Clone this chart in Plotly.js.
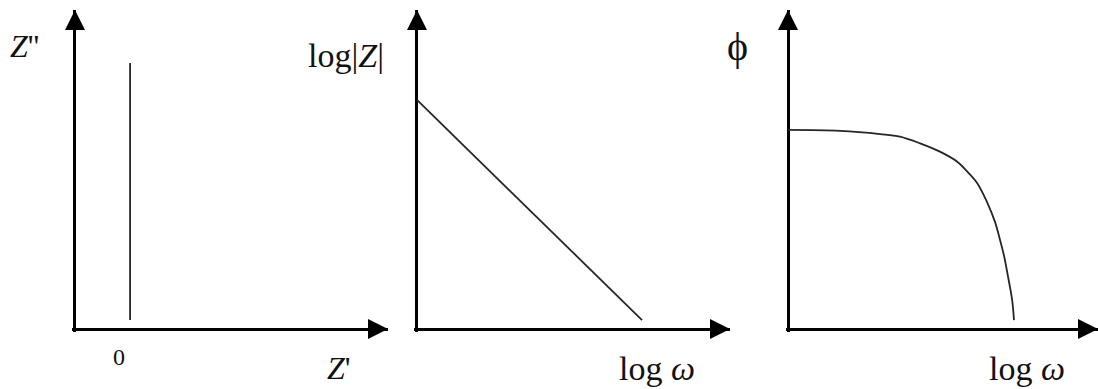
<!DOCTYPE html>
<html>
<head>
<meta charset="utf-8">
<script src="https://cdn.plot.ly/plotly-3.0.1.min.js"></script>
<style>html,body{margin:0;padding:0;background:#fff;}#chart{width:1098px;height:389px;}</style>
</head>
<body>
<div id="chart"></div>
<script>
// ---- data (schematic units, 0..10 on each axis) ----
const nyquistX = [1.76, 1.76];
const nyquistY = [0.28, 8.34];

const bodeMagX = [0, 7.19];
const bodeMagY = [7.18, 0.28];

const bodePhaseX = [0, 1.68, 2.97, 3.61, 4.26, 4.90, 5.45, 5.77, 6.10, 6.42, 6.68, 6.84, 6.97, 7.10, 7.23, 7.29];
const bodePhaseY = [6.24, 6.21, 6.11, 6.03, 5.82, 5.56, 5.25, 4.95, 4.58, 3.98, 3.35, 2.79, 2.29, 1.63, 0.91, 0.28];

const panelLabels = {
  y: ["<i>Z</i>''", "log|<i>Z</i>|", "\u03D5"],
  x: ["<i>Z</i>'", "log <i>\u03C9</i>", "log <i>\u03C9</i>"]
};
const originTick = "0";

// ---- layout helpers ----
const W = 1098, H = 389;
const LO = -0.08, HI = 10;
// pixel positions of each panel origin and arrow tips
const panels = [
  {ox: 75, tx: 388},
  {ox: 417, tx: 730},
  {ox: 788, tx: 1098}
];
const oy = 329, ty = 10;

function xdom(p) {
  const unit = (p.tx - p.ox) / HI;
  return [(p.ox + LO * unit) / W, p.tx / W];
}
const yUnit = (oy - ty) / HI;
const ydom = [(H - oy + LO * yUnit) / H, (H - ty) / H];

function paper(px, py) { return {x: px / W, y: (H - py) / H}; }

const lineStyle = {color: '#262626', width: 1.8};
const traces = [];
const suffix = ['', '2', '3'];

traces.push({x: nyquistX, y: nyquistY, mode: 'lines', line: lineStyle, xaxis: 'x', yaxis: 'y', hoverinfo: 'skip'});
traces.push({x: bodeMagX, y: bodeMagY, mode: 'lines', line: lineStyle, xaxis: 'x2', yaxis: 'y2', hoverinfo: 'skip'});
traces.push({x: bodePhaseX, y: bodePhaseY, mode: 'lines', line: Object.assign({shape: 'spline', smoothing: 1}, lineStyle), xaxis: 'x3', yaxis: 'y3', hoverinfo: 'skip'});

// arrow heads at axis ends
for (let i = 0; i < 3; i++) {
  traces.push({x: [0], y: [HI], mode: 'markers', marker: {symbol: 'arrow-up', size: 20, color: '#000'},
    xaxis: 'x' + suffix[i], yaxis: 'y' + suffix[i], cliponaxis: false, hoverinfo: 'skip'});
  traces.push({x: [HI], y: [0], mode: 'markers', marker: {symbol: 'arrow-right', size: 20, color: '#000'},
    xaxis: 'x' + suffix[i], yaxis: 'y' + suffix[i], cliponaxis: false, hoverinfo: 'skip'});
}

const layout = {
  width: W, height: H,
  margin: {l: 0, r: 0, t: 0, b: 0, pad: 0},
  paper_bgcolor: '#fff', plot_bgcolor: 'rgba(0,0,0,0)',
  showlegend: false,
  font: {family: 'Liberation Serif, Times New Roman, serif', color: '#111'},
  annotations: []
};
for (let i = 0; i < 3; i++) {
  const ax = {
    domain: xdom(panels[i]), range: [LO, HI], showgrid: false, showticklabels: false, ticks: '',
    zeroline: true, zerolinewidth: 3, zerolinecolor: '#000', showline: false, fixedrange: true
  };
  const ay = {
    domain: ydom, range: [LO, HI], showgrid: false, showticklabels: false, ticks: '',
    zeroline: true, zerolinewidth: 3, zerolinecolor: '#000', showline: false, fixedrange: true,
    anchor: 'x' + suffix[i]
  };
  ax.anchor = 'y' + suffix[i];
  layout['xaxis' + suffix[i]] = ax;
  layout['yaxis' + suffix[i]] = ay;
}

function ann(text, px, py, size) {
  const p = paper(px, py);
  layout.annotations.push({text: text, x: p.x, y: p.y, xref: 'paper', yref: 'paper',
    xanchor: 'center', yanchor: 'middle', showarrow: false,
    font: {size: size, family: 'Liberation Serif, Times New Roman, serif', color: '#111'}});
}
ann(panelLabels.y[0], 24, 46, 32);
ann(panelLabels.y[1], 346, 56, 34);
ann(panelLabels.y[2], 737, 47, 40);
ann(panelLabels.x[0], 339, 368, 32);
ann(panelLabels.x[1], 657, 368, 34);
ann(panelLabels.x[2], 1027, 368, 34);
ann(originTick, 119, 357, 24);

Plotly.newPlot('chart', traces, layout, {staticPlot: true, displayModeBar: false});
</script>
</body>
</html>
